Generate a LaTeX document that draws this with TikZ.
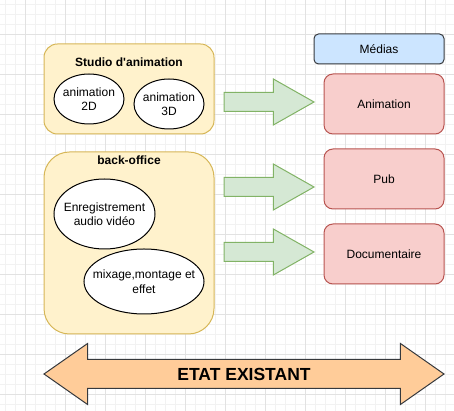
\documentclass[tikz,border=0pt]{standalone}
\usepackage{fontspec}
\setmainfont{Liberation Sans}
\usetikzlibrary{positioning, shapes.geometric, shapes.arrows}
\definecolor{gridminor}{HTML}{F2F2F2}
\definecolor{gridmajor}{HTML}{E2E2E2}
\definecolor{groupfill}{HTML}{FFF2CC}
\definecolor{groupdraw}{HTML}{D6B656}
\definecolor{mediasfill}{HTML}{CCE5FF}
\definecolor{mediasdraw}{HTML}{36393D}
\definecolor{mediafill}{HTML}{F8CECC}
\definecolor{mediadraw}{HTML}{B85450}
\definecolor{flowfill}{HTML}{D5E8D4}
\definecolor{flowdraw}{HTML}{82B366}
\definecolor{etatfill}{HTML}{FFCC99}
\definecolor{etatdraw}{HTML}{36393D}

\begin{document}
\begin{tikzpicture}
  [x=1pt,y=1pt,
   basicbox/.style={draw,rectangle,line width=1pt,inner sep=0pt,outer sep=0pt,font=\fontsize{12}{14}\selectfont},
   groupbox/.style={basicbox,draw=groupdraw,fill=groupfill,minimum width=170},
   grouptitle/.style={inner sep=0pt,font=\bfseries\fontsize{12}{14}\selectfont},
   mediabox/.style={basicbox,draw=mediadraw,fill=mediafill,rounded corners=9,minimum width=120,minimum height=60},
   ovalbox/.style={draw,ellipse,fill=white,line width=1pt,inner sep=0pt,outer sep=0pt},
   ovaltext/.style={align=center,inner sep=0pt,font=\fontsize{12}{14.5}\selectfont},
   flowarrow/.style={single arrow,anchor=tail,draw=flowdraw,fill=flowfill,line width=1pt,inner sep=0pt,outer sep=0pt,inner ysep=9pt,text height=0pt,text depth=0pt,minimum height=90,single arrow head extend=13.5,single arrow tip angle=59},
   statusarrow/.style={double arrow,draw=etatdraw,fill=etatfill,line width=1pt,inner sep=0pt,inner ysep=7.75pt,text height=12.5pt,text depth=0pt,minimum height=400,double arrow head extend=16,double arrow tip angle=70,font=\bfseries\fontsize{17.5}{20}\selectfont}]
  \useasboundingbox (0,0) rectangle (454,411);
  \begin{scope}
    \clip (0,0) rectangle (454,411);
    \draw [gridminor,line width=0.8pt,step=10pt,shift={(5,7)}] (-20,-20) grid (470,430);
    \draw [gridmajor,line width=0.8pt,step=40pt,shift={(25,17)}] (-40,-40) grid (480,440);
  \end{scope}
  \node (studio) at (129,322) [groupbox,rounded corners=13.5,minimum height=90] {};
  \node (studiotitle) at ([yshift=-18]studio.north) [grouptitle] {Studio d\textquotesingle animation};
  \node (animation2d) at (89,312) [ovalbox,minimum width=70,minimum height=50,label={[ovaltext]center:{animation\\2D}}] {};
  \node (animation3d) at (169,307) [ovalbox,minimum width=70,minimum height=50,label={[ovaltext]center:{animation\\3D}}] {};
  \node (backoffice) at (129,168) [groupbox,rounded corners=25.5,minimum height=182] {};
  \node (backofficetitle) at ([yshift=-8]backoffice.north) [grouptitle] {back-office};
  \node (enregistrement) at (104.5,197) [ovalbox,minimum width=101,minimum height=70,label={[ovaltext]center:{Enregistrement\\audio vidéo}}] {};
  \node (mixage) at (144,129.5) [ovalbox,minimum width=120,minimum height=65,label={[ovaltext]center:{mixage,montage et\\effet}}] {};
  \node (medias) at (379,362) [basicbox,draw=mediasdraw,fill=mediasfill,rounded corners=4.5,minimum width=130,minimum height=30] {Médias};
  \node (animation) at (384,307) [mediabox] {Animation};
  \node (pub) [mediabox,below=15 of animation] {Pub};
  \node (documentaire) [mediabox,below=15 of pub] {Documentaire};
  \node (arrowanimation) at (224,309) [flowarrow] {};
  \node (arrowpub) at (224,224) [flowarrow] {};
  \node (arrowdocumentaire) at (224,159) [flowarrow] {};
  \node (etatexistant) at (244,37) [statusarrow] {ETAT EXISTANT};
\end{tikzpicture}
\end{document}
